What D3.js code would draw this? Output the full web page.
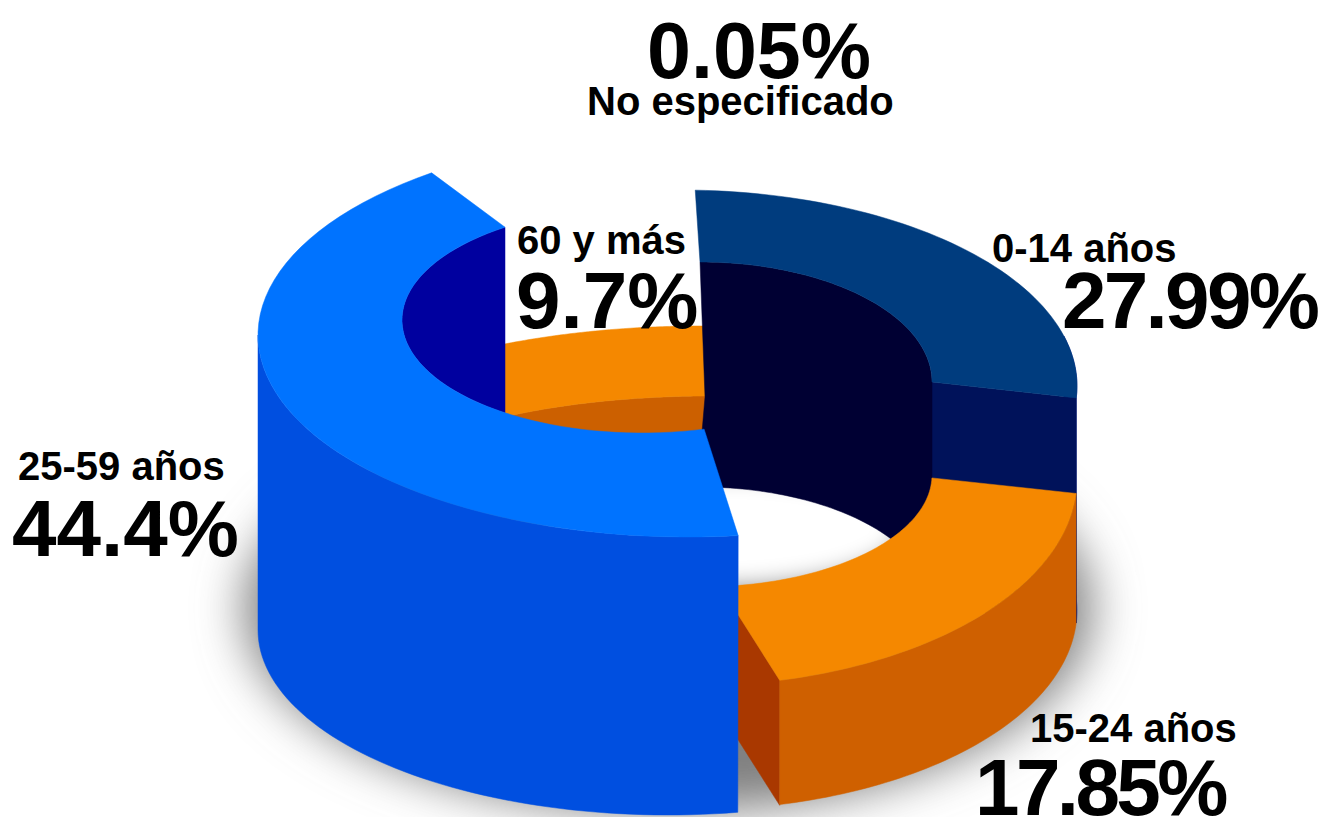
<!DOCTYPE html>
<html><head><meta charset="utf-8">
<script src="https://cdn.jsdelivr.net/npm/d3@7"></script>
<style>html,body{margin:0;padding:0;background:#fff;overflow:hidden}svg{display:block}
text{font-family:"Liberation Sans",Arial,sans-serif;font-weight:700;fill:#000}</style>
</head><body><svg id="c" width="1323" height="817"></svg>
<script>
// Data
const categories = ["0-14 años","15-24 años","25-59 años","60 y más","No especificado"];
const values = [27.99,17.85,44.4,9.7,0.05];
const valueLabels = ["27.99%","17.85%","44.4%","9.7%","0.05%"];

// Perspective view of each ring segment (ellipses, visual sweep in degrees, extrusion)
const views = {
  "0-14 años":{outer:{cx:680,cy:386,rx:397,ry:196},inner:{cx:700,cy:382,rx:232,ry:120},
    outerSweep:[2.2,93.5],innerSweep:[0,90],depth:225,
    top:"#003c7e",wall:"#00188a",cut:"#00125a",innerWall:"#000033"},
  "15-24 años":{outer:{cx:690,cy:479,rx:387,ry:207},inner:{cx:700,cy:475,rx:232,ry:112},
    bottom:{cx:690,cy:610,rx:387,ry:200},outerSweep:[94,166.6],innerSweep:[91.5,175],depth:125,
    top:"#f58800",wall:"#cf6000",cut:"#a93800"},
  "25-59 años":{outer:{cx:688,cy:335,rx:430,ry:202},inner:{cx:642,cy:320,rx:240,ry:113},
    bottom:{cx:668,cy:630,rx:410,ry:185},outerSweep:[173.3,323.4],bottomSweep:[170.2,270],innerSweep:[165,325.2],
    top:"#0073ff",wall:"#004fe0",innerWall:"#00009f"},
  "60 y más":{outer:{cx:700,cy:516,rx:460,ry:190},inner:{cx:710,cy:506,rx:350,ry:110},
    outerSweep:[-25.1,1.5],innerSweep:[-35.9,1],depth:60,
    top:"#f58800",innerWall:"#cc6000"}
};
const labelPlacement = {
  "0-14 años":{cat:[992,262],val:[1062,328],valSize:80,spacing:-2.7},
  "15-24 años":{cat:[1030,742],val:[975,815],valSize:80,spacing:-3.6},
  "25-59 años":{cat:[18,480],val:[12,556],valSize:80,spacing:0},
  "60 y más":{cat:[517,254],val:[516,328],valSize:80,spacing:0},
  "No especificado":{cat:[587,115],val:[647,78],valSize:79,spacing:0}
};

const svg = d3.select("#c");
const defs = svg.append("defs");
defs.append("filter").attr("id","soft").attr("x","-30%").attr("y","-30%").attr("width","160%").attr("height","160%")
  .append("feGaussianBlur").attr("stdDeviation",24);
defs.append("filter").attr("id","soft2").attr("x","-30%").attr("y","-50%").attr("width","160%").attr("height","200%")
  .append("feGaussianBlur").attr("stdDeviation",12);

const rad = Math.PI/180;
const pt = (e,deg,dy=0)=>[e.cx+e.rx*Math.sin(deg*rad), e.cy-e.ry*Math.cos(deg*rad)+dy];
const line = d3.line();
const pie = d3.pie().sort(null).value(d=>d.value).startAngle(0).endAngle(2*Math.PI);
const arcs = pie(categories.map((c,i)=>({category:c,value:values[i]})));
const byCat = new Map(arcs.map(a=>[a.data.category,a]));

// arc points along an ellipse, driven by the pie angles of a category
function arcPts(cat,ellipse,sweep,dy=0,from,to){
  const a = byCat.get(cat);
  const s = d3.scaleLinear().domain([a.startAngle,a.endAngle]).range(sweep);
  const lo = from===undefined?a.startAngle:from, hi = to===undefined?a.endAngle:to;
  return d3.range(0,61).map(i=>pt(ellipse,s(lo+(hi-lo)*i/60),dy));
}
const g = svg.append("g");
const shape = (pts,fill)=>g.append("path").attr("d",line(pts)+"Z").attr("fill",fill).attr("stroke",fill).attr("stroke-width",.5);

// ground shadow and light inside the ring
g.append("ellipse").attr("cx",668).attr("cy",608).attr("rx",424).attr("ry",204)
  .attr("fill","#808080").attr("filter","url(#soft)");
g.append("ellipse").attr("cx",725).attr("cy",530).attr("rx",180).attr("ry",58).attr("fill","#fff").attr("filter","url(#soft2)");

// 60 y más (behind everything)
{const c="60 y más",v=views[c];
 const iA=arcPts(c,v.inner,v.innerSweep), oA=arcPts(c,v.outer,v.outerSweep);
 shape([...iA,...iA.map(p=>[p[0],p[1]+v.depth]).reverse()],v.innerWall);
 shape([...oA,...iA.slice().reverse()],v.top);
}
// 0-14 años
{const c="0-14 años",v=views[c];
 const iA=arcPts(c,v.inner,v.innerSweep), oA=arcPts(c,v.outer,v.outerSweep);
 const a=byCat.get(c);
 const sliver=arcPts(c,v.outer,v.outerSweep,0,a.startAngle+(a.endAngle-a.startAngle)*.8,a.endAngle);
 shape([...sliver,...sliver.map(p=>[p[0],p[1]+v.depth]).reverse()],v.wall);
 const io=iA[iA.length-1], oo=oA[oA.length-1];
 shape([io,oo,[oo[0],oo[1]+v.depth],[io[0],io[1]+v.depth]],v.cut);
 const iS=iA[0], notch=[iS[0]+5,iS[1]+135], notch2=[iS[0]+2,iS[1]+170];
 shape([notch,notch2,...iA.map(p=>[p[0],p[1]+v.depth]),...iA.slice().reverse()],v.innerWall);
 shape([...oA,...iA.slice().reverse()],v.top);
}
// 15-24 años
{const c="15-24 años",v=views[c];
 const iA=arcPts(c,v.inner,v.innerSweep), oA=arcPts(c,v.outer,v.outerSweep), bA=arcPts(c,v.bottom,v.outerSweep);
 const oE=oA[oA.length-1], iE=iA[iA.length-1];
 shape([oE,[oE[0],oE[1]+v.depth],[iE[0],iE[1]+v.depth],iE],v.cut);
 shape([...oA,...bA.slice().reverse()],v.wall);
 shape([...oA,...iA.slice().reverse()],v.top);
}
// 25-59 años (front)
{const c="25-59 años",v=views[c];
 const iA=arcPts(c,v.inner,v.innerSweep), oA=arcPts(c,v.outer,v.outerSweep);
 const a=byCat.get(c);
 // back of the inner wall, left of the cut
 const s=d3.scaleLinear().domain(v.innerSweep).range([a.startAngle,a.endAngle]);
 shape(arcPts(c,v.inner,v.innerSweep,0,s(214.8),a.endAngle),v.innerWall);
 // outer wall: from right corner round to the left-most point
 const so=d3.scaleLinear().domain(v.outerSweep).range([a.startAngle,a.endAngle]);
 const toLeft=arcPts(c,v.outer,v.outerSweep,0,a.startAngle,so(270));
 const low=arcPts(c,v.bottom,v.bottomSweep);
 shape([...toLeft,...low.slice().reverse()],v.wall);
 shape([...oA,...iA.slice().reverse()],v.top);
}
// Labels
categories.forEach((c,i)=>{
  const p=labelPlacement[c];
  svg.append("text").attr("x",p.cat[0]).attr("y",p.cat[1]).attr("font-size",40).text(c);
  svg.append("text").attr("x",p.val[0]).attr("y",p.val[1]).attr("font-size",p.valSize)
    .attr("letter-spacing",p.spacing).text(valueLabels[i]);
});
</script></body></html>
